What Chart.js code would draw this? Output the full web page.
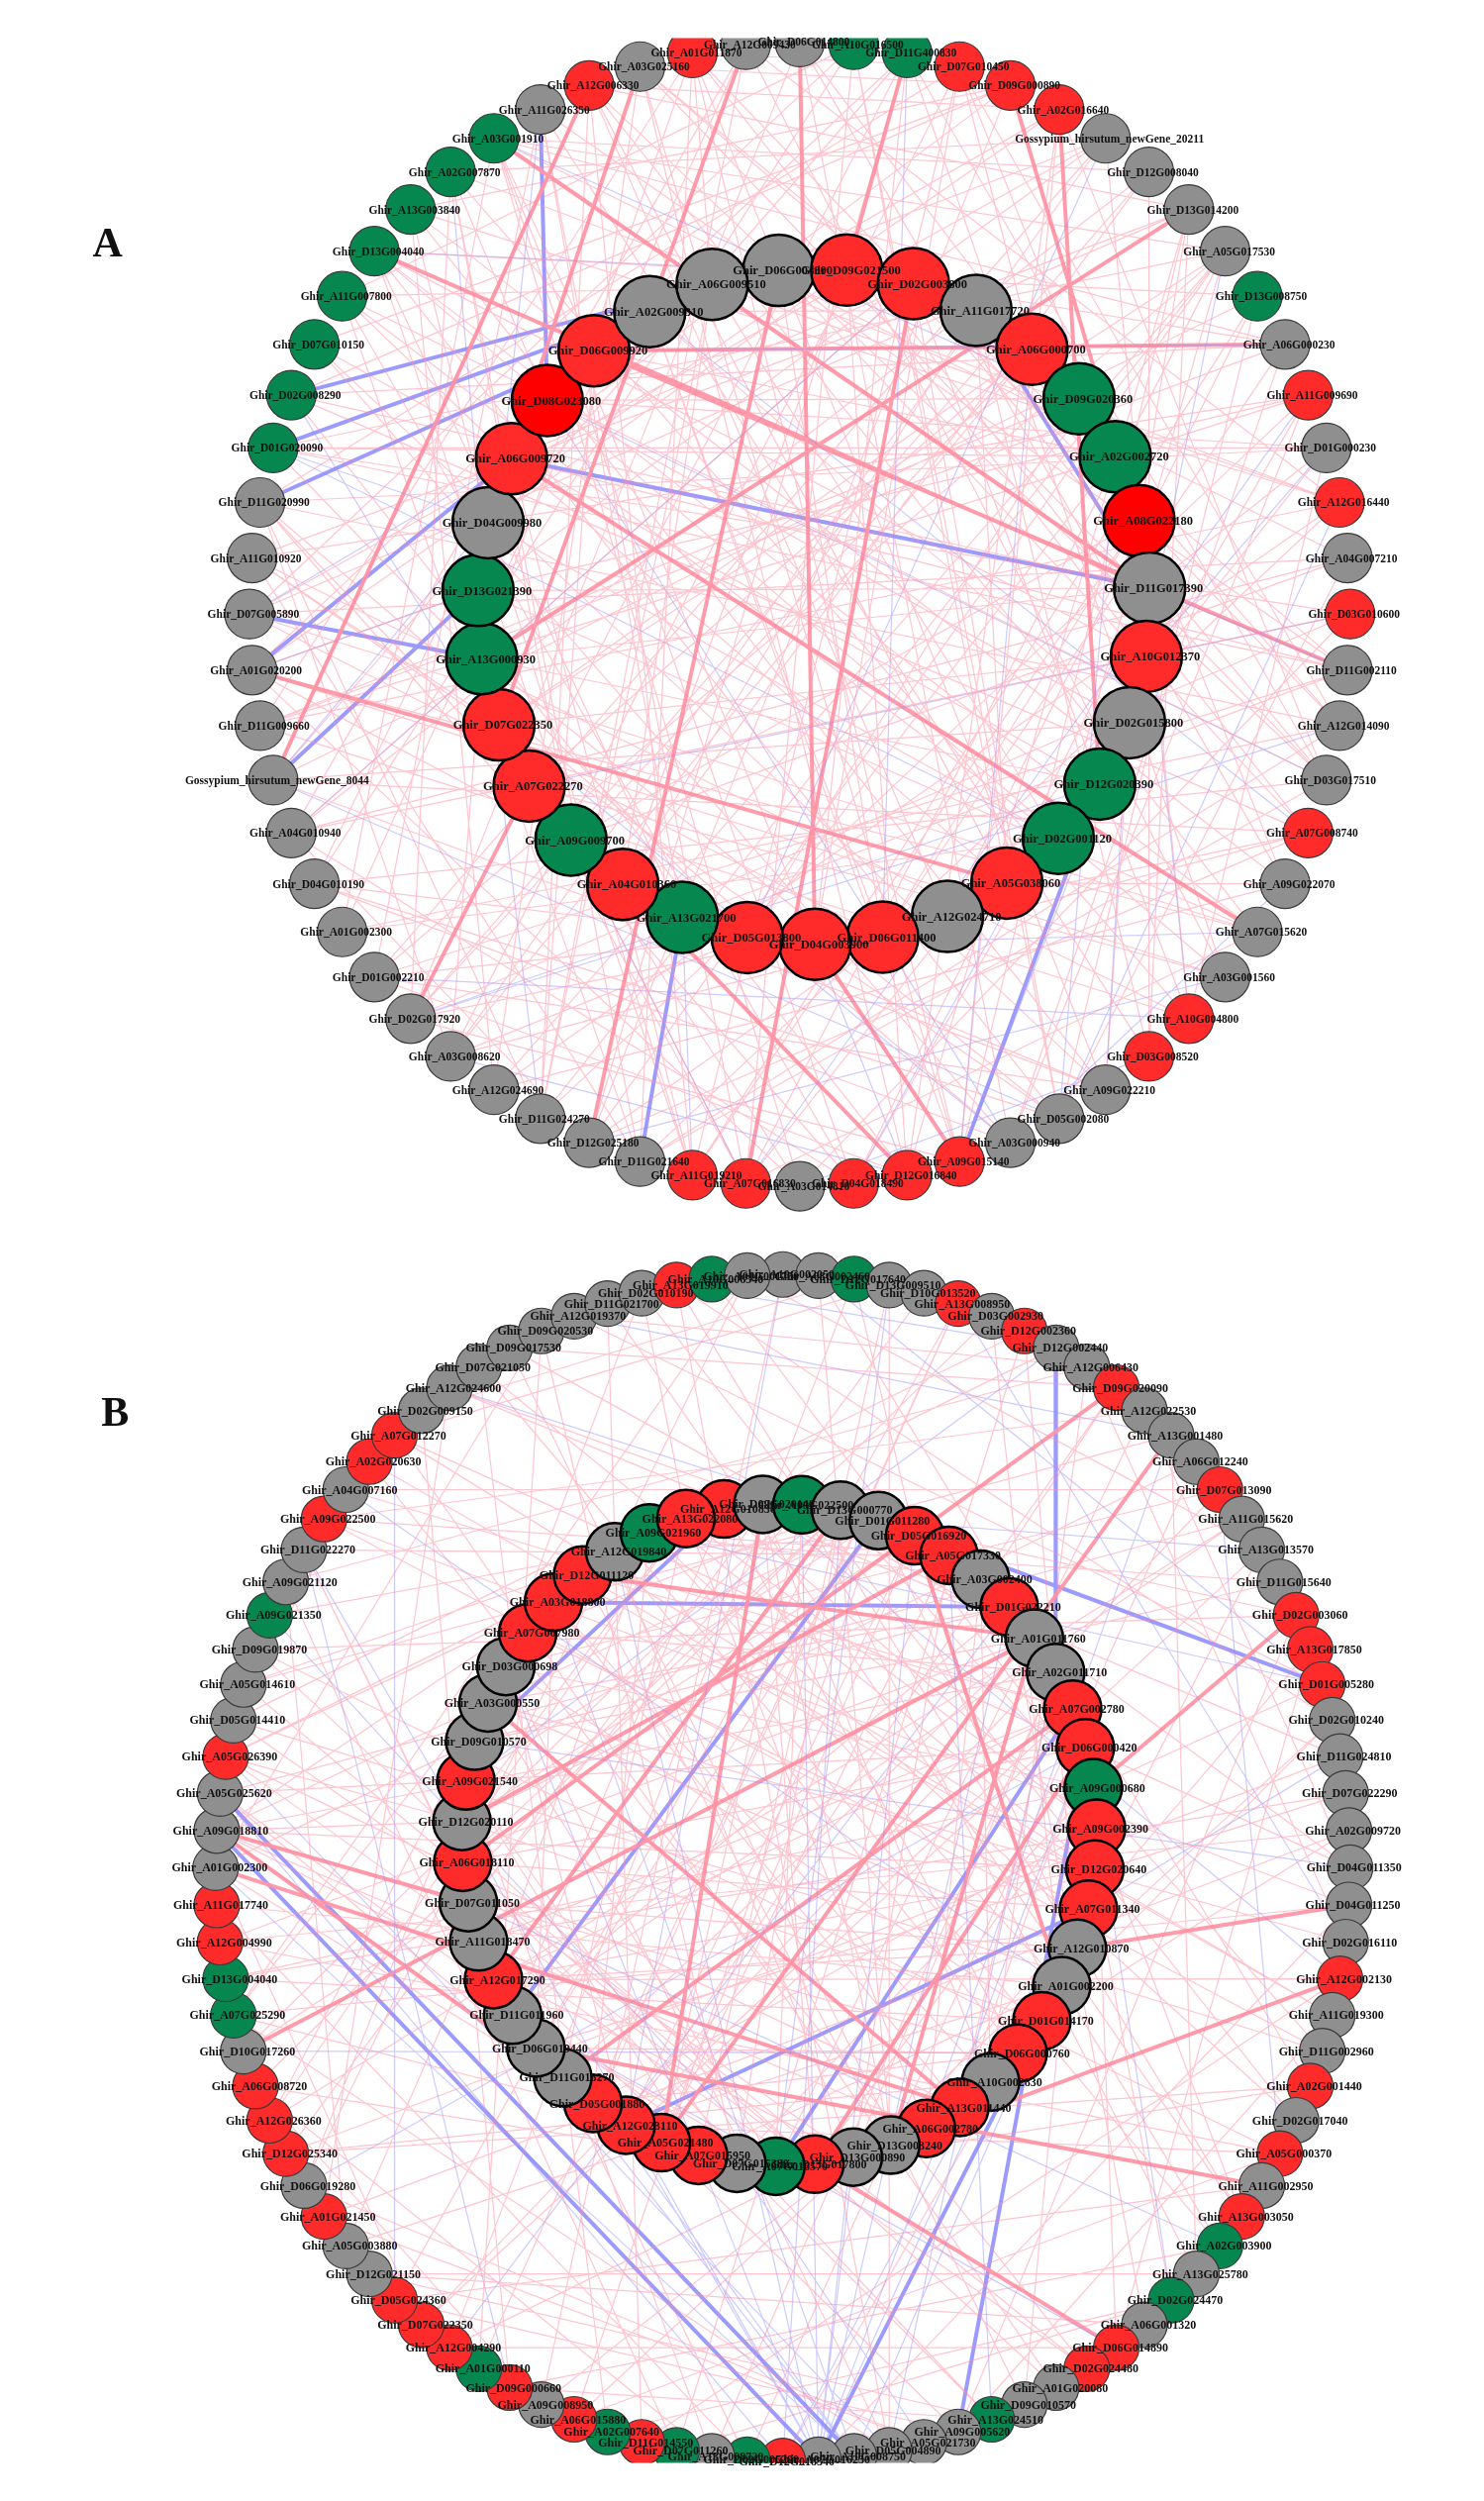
<!DOCTYPE html>
<html>
<head>
<meta charset="utf-8">
<script src="https://cdn.jsdelivr.net/npm/chart.js@4.4.1/dist/chart.umd.min.js"></script>
<style>
  html, body { margin: 0; padding: 0; background: #fff; }
  canvas { display: block; }
</style>
</head>
<body>
<canvas id="chart" width="1499" height="2526" style="width:1499px;height:2526px"></canvas>
<script>
// gene names and module colours (clockwise from the top)
// colour codes: Y grey, R red, B bright red, G green
const aOuterNames = ["D06G014800","A10G016500","D11G400830","D07G010450","D09G000890","A02G016640","Gossypium_hirsutum_newGene_20211","D12G008040","D13G014200","A05G017530",
  "D13G008750","A06G000230","A11G009690","D01G000230","A12G016440","A04G007210","D03G010600","D11G002110","A12G014090","D03G017510",
  "A07G008740","A09G022070","A07G015620","A03G001560","A10G004800","D03G008520","A09G022210","D05G002080","A03G000940","A09G015140",
  "D12G016840","D04G018490","A03G014810","A07G016830","A11G019210","D11G021640","D12G025180","D11G024270","A12G024690","A03G008620",
  "D02G017920","D01G002210","A01G002300","D04G010190","A04G010940","Gossypium_hirsutum_newGene_8044","D11G009660","A01G020200","D07G005890","A11G010920",
  "D11G020990","D01G020090","D02G008290","D07G010150","A11G007800","D13G004040","A13G003840","A02G007870","A03G001910","A11G026350",
  "A12G006330","A03G025160","A01G011870","A12G009430"];
const aOuterColors = "YGGRRRYYYYGYRYRYRYYYRYYYRRYYYRRRYRRYYYYYYYYYYYYYYYYGGGGGGGGYRYRY";

const aInnerNames = ["D06G004800","D09G021500","D02G003800","A11G017720","A06G000700","D09G020360","A02G002720","A08G022180","D11G017390","A10G012370",
  "D02G015800","D12G020390","D02G001120","A05G038060","A12G024710","D06G011400","D04G003900","D05G013800","A13G021700","A04G010360",
  "A09G009700","A07G022270","D07G022350","A13G000930","D13G021390","D04G009980","A06G009720","D08G023080","D06G009920","A02G009310","A06G009510"];
const aInnerColors = "YRRYRGGBYRYGGRYRRRGRGRRGGYRBRYY";

const bOuterNames = ["A10G002050","A03G002460","D12G017640","D13G009510","D10G013520","A13G008950","D03G002930","D12G002360","D12G002440","A12G006430",
  "D09G020090","A12G022530","A13G001480","A06G012240","D07G013090","A11G015620","A13G013570","D11G015640","D02G003060","A13G017850",
  "D01G005280","D02G010240","D11G024810","D07G022290","A02G009720","D04G011350","D04G011250","D02G016110","A12G002130","A11G019300",
  "D11G002960","A02G001440","D02G017040","A05G000370","A11G002950","A13G003050","A02G003900","A13G025780","D02G024470","A06G001320",
  "D06G014890","D02G024480","A01G020080","D09G010570","A13G024510","A09G005620","A05G021730","D05G004890","A10G008750","A07G016230",
  "D12G018340","D02G005290","A13G008720","D07G011260","D11G014550","A02G007640","A06G015880","A09G008950","D09G000660","A01G000110",
  "A12G004290","D07G022350","D05G024360","D12G021150","A05G003880","A01G021450","D06G019280","D12G025340","A12G026360","A06G008720",
  "D10G017260","A07G025290","D13G004040","A12G004990","A11G017740","A01G002300","A09G018810","A05G025620","A05G026390","D05G014410",
  "A05G014610","D09G019870","A09G021350","A09G021120","D11G022270","A09G022500","A04G007160","A02G020630","A07G012270","D02G009150",
  "A12G024600","D07G021050","D09G017530","D09G020530","A12G019370","D11G021700","D02G010190","A13G019910","A10G006540","A01G001750"];
const bOuterColors = "YYGYYRYRYYRYYYRYYYRRRYYYYYYYRYYRYRYRGYGYRRYYGYYYYYRGYGRGRYRGRRRYYRYRRRYGGRRYYYRYYYGYYRYRRYYYYYYYYRGY";

const bInnerNames = ["A12G010830","D09G020140","A09G022500","D13G000770","D01G011280","D05G016920","A05G017330","A03G002400","D01G022210","A01G011760",
  "A02G011710","A07G002780","D06G000420","A09G000680","A09G002390","D12G020640","A07G011340","A12G010870","A01G002200","D01G014170",
  "D06G000760","A10G002830","A13G011440","A06G002780","D13G003240","D13G000890","D13G017800","A07G016570","D07G015380","A07G015950",
  "A05G021480","A12G023110","D05G001880","D11G018270","D06G019440","D11G011960","A12G017290","A11G018470","D07G011050","A06G018110",
  "D12G020110","A09G021540","D09G010570","A03G000550","D03G000698","A07G007980","A03G018800","D12G011120","A12G019840","A09G021960","A13G022080"];
const bInnerColors = "RYGYYRRYRYYRRGRRRYYRRYRRYYRGYRRRRYYYRYYRYRYYYRRRYGR";

// co-expression edges, node index pairs (outer ring first, inner ring after it)
const aPinkThin = "0-40 0-70 1-33 2-45 3-80 4-52 5-30 6-88 7-44 8-60 9-37 10-55 11-28 12-49 13-72 14-46 15-58 16-40 17-90 18-50 19-35 20-62 21-77 22-48 23-2 24-57 25-8 26-41 27-66 28-53 29-5 30-61 31-12 32-47 33-85 34-3 35-54 36-9 37-60 38-14 39-68 40-20 41-6 42-18 43-91 44-16 45-26 46-11 47-22 48-79 49-24 50-13 51-17 52-30 53-75 54-19 55-27 56-21 57-84 58-31 59-25 60-34 61-38 62-29 63-42 64-79 65-83 66-90 67-77 68-86 69-81 70-92 71-84 72-88 73-65 74-93 75-87 76-94 77-1 78-10 79-36 80-43 81-51 82-59 83-7 84-15 85-23 86-32 87-39 88-47 89-56 90-4 91-13 92-21 93-29 94-37 3-50 6-39 9-58 15-44 18-3 22-55 27-10 33-59 36-20 41-30 44-63 49-8 51-70 52-72 54-66 57-14 60-5 62-46 1-27 4-61 7-25 10-45 13-33 16-51 19-43 23-47 26-56 29-40 32-16 35-62 38-9 0-21 2-36 5-47 8-29 11-52 14-35 17-61 20-39 24-6 28-12 31-50 34-55 37-63 40-7 43-1 46-24 48-15 50-28 53-4 56-38 58-11 61-19 63-23 64-5 66-19 68-40 70-12 72-31 74-45 76-54 78-60 80-2 82-26 84-47 86-9 88-22 90-34 92-58 94-14 " +
  "1-48 3-62 5-19 7-58 9-41 11-66 12-37 14-56 16-73 18-62 20-45 21-3 23-55 25-67 27-49 30-8 32-58 34-71 36-44 38-21 39-3 41-59 42-76 44-31 46-70 47-2 49-35 51-9 53-26 55-82 56-4 57-35 59-17 61-29 62-87 0-28 2-19 4-36 6-57 8-48 10-34 13-51 15-27 17-41 19-60 22-33 24-13 26-62 28-43 31-54 33-9 35-18 37-50 40-57 43-27 45-60 48-6 50-39 52-20 54-1 58-42 60-22 63-14 65-89 67-83 69-91 71-79 73-86 75-66 77-90 79-93 81-70 83-94 85-68 87-72 89-76 91-74 93-67 64-20 66-44 68-3 70-61 72-52 74-26 76-9 78-41 80-58 82-17 84-33 86-49 88-12 90-54 92-37 94-62 65-30 67-18 69-46 71-8 73-55 75-24 77-60 79-11 81-39 83-50 85-2 87-27 89-34 91-57 93-6";
const aBlueThin = "51-76 51-89 52-85 47-88 45-89 29-68 29-74 30-80 28-91 27-70 33-84 34-82 59-87 57-86 13-73 17-72 20-93 24-71 37-88 40-75 44-66 48-90 2-79 6-81 9-74 11-92 55-64 58-69 21-28 25-32 18-40 26-71 31-73 28-86 16-85 19-91 22-80 23-36 24-41 27-45 30-39 14-27 12-33";
const aPinkThick = "2-65 4-71 5-75 61-89 63-86 58-72 17-92 30-85 33-66 40-85 0-80 22-90 29-80 47-77 11-92 55-72 36-64 8-87 60-45";
const aBlueThick = "51-93 52-94 72-90 47-90 67-72 45-88 35-82 29-75 59-91 48-87 50-64";

const bPinkThin = "76-110 76-120 76-133 76-140 76-146 76-125 76-137 76-115 76-104 75-130 75-142 74-118 77-128 78-122 70-138 66-141 62-45 60-40 58-44 64-130 68-145 72-119 80-101 82-148 84-106 86-111 88-3 90-107 92-10 94-20 96-150 98-113 1-124 3-129 5-132 7-117 9-121 11-127 13-140 15-135 17-109 19-116 21-123 23-134 25-104 27-143 29-147 31-126 33-131 35-114 37-102 39-108 41-139 43-112 45-136 47-144 50-120 52-110 54-28 56-33 57-125 59-5 61-14 63-37 65-46 67-121 69-103 71-126 73-24 79-30 81-18 83-9 85-26 87-41 89-2 91-115 93-128 95-35 97-47 99-16 100-120 102-130 104-141 106-125 108-135 110-145 112-122 114-132 116-139 118-149 121-101 123-107 127-143 129-137 131-105 134-146 136-111 138-117 140-150 142-109 144-119 147-124 2-60 6-70 12-80 22-90 32-96 42-88 46-66 51-74 53-83 55-91 0-57 4-67 8-78 14-86 24-65 34-62 36-58 38-53 26-71 30-85 77-133 77-112 78-140 79-125 73-109 71-147 69-129 20-113 16-121 10-107 44-139 40-114 36-118 30-103 100-135 103-128 105-140 107-149 111-131 113-144 117-136 120-148 " +
  "1-31 3-47 5-62 7-79 9-94 11-25 13-51 15-68 17-85 19-40 21-56 23-72 25-88 27-9 29-45 31-67 33-81 35-97 37-12 39-63 41-78 43-92 45-18 47-71 49-26 51-84 53-7 55-38 57-69 59-93 61-16 63-44 65-90 67-22 69-52 71-99 73-33 75-61 77-15 79-87 81-42 83-64 85-11 87-29 89-58 91-36 93-75 95-54 97-21 99-66 100-114 101-126 102-138 103-145 104-117 105-130 106-149 107-121 108-142 109-133 110-125 111-147 112-139 113-128 114-150 115-136 116-124 117-143 118-131 119-140 120-134 121-146 122-110 123-137 124-101 125-148 126-113 127-102 128-141 129-118 130-106 131-144 132-120 133-150 134-104 135-127 136-149 137-111 138-126 139-103 141-129 143-108 145-116 146-122 148-105 149-132 150-123 2-105 6-118 10-131 14-144 18-102 24-119 28-136 32-149 38-110 44-128 52-141 56-104 60-121 64-137 68-150 72-113 78-146 80-126 84-133 88-115 92-109 96-143";
const bBlueThin = "49-102 49-108 49-112 49-140 49-144 49-125 49-131 48-137 48-146 48-119 47-110 50-115 46-128 77-50 75-48 78-47 44-106 40-135 38-113 20-149 16-104 12-123 8-141 3-127 0-131 90-105 86-118 84-140 82-127 70-120 66-112 60-108 28-101 25-142 22-116 36-138 49-105 49-121 49-148 50-103 48-134 94-12 97-8 1-20 5-27 14-33 88-62 84-58";
const bPinkThick = "76-138 76-131 75-122 101-130 103-136 106-140 109-147 112-126 115-120 118-105 122-143 124-109 133-111 26-117 28-124 34-134 40-126 18-113 10-139 70-109 12-130";
const bBlueThick = "76-49 77-48 100-142 104-135 108-146 111-127 116-131 119-49 45-112 20-104 8-110";

const palette = { Y: "#8f8f8f", R: "#ff2b2b", B: "#ff0000", G: "#06874f" };

// circular (slightly elliptical) layout: positions follow from the node order
function ring(n, cx, cy, rx, ry, start) {
  const pts = [];
  for (let i = 0; i < n; i++) {
    const a = (start + i * 360 / n) * Math.PI / 180;
    pts.push({ x: cx + rx * Math.cos(a), y: cy + ry * Math.sin(a) });
  }
  return pts;
}

const aPos = ring(aOuterNames.length, 811, 600, 586, 596, -90).concat(ring(aInnerNames.length, 826, 592, 358, 352, -96));
const bPos = ring(bOuterNames.length, 793, 1906, 604, 618, -90).concat(ring(bInnerNames.length, 789, 1872, 338, 345, -100));

function edges(str, pos) {
  const out = [];
  str.trim().split(/\s+/).forEach((e) => {
    const [a, b] = e.split("-").map(Number);
    if (!pos[a] || !pos[b]) return;
    out.push(pos[a], pos[b], { x: NaN, y: NaN });
  });
  return out;
}

function edgeSet(str, pos, color, width) {
  return { data: edges(str, pos), showLine: true, spanGaps: false, borderColor: color, borderWidth: width, pointRadius: 0, order: 5 };
}

function nodeSet(pos, colors, radius, border, bw) {
  return {
    data: pos, showLine: false, order: 0,
    pointRadius: radius, pointHoverRadius: radius,
    pointBackgroundColor: colors.split("").map((c) => palette[c]),
    pointBorderColor: border, pointBorderWidth: bw
  };
}

const nA = aOuterNames.length, nB = bOuterNames.length;

const labels = {
  id: "labels",
  afterDatasetsDraw(chart) {
    const ctx = chart.ctx, xs = chart.scales.x, ys = chart.scales.y;
    ctx.save();
    ctx.fillStyle = "#111";
    ctx.textAlign = "center";
    ctx.textBaseline = "middle";
    const put = (names, pos, offset, size) => {
      ctx.font = "bold " + size + "px 'Liberation Serif', serif";
      names.forEach((n, i) => {
        const p = pos[i + offset];
        const t = n.startsWith("Gossypium") ? n : "Ghir_" + n;
        ctx.fillText(t, xs.getPixelForValue(p.x) + 4, ys.getPixelForValue(p.y) + 1);
      });
    };
    put(aOuterNames, aPos, 0, 11.5);
    put(aInnerNames, aPos, nA, 12.5);
    put(bOuterNames, bPos, 0, 12);
    put(bInnerNames, bPos, nB, 12);
    ctx.font = "bold 42px 'Liberation Serif', serif";
    ctx.fillText("A", xs.getPixelForValue(74), ys.getPixelForValue(216));
    ctx.fillText("B", xs.getPixelForValue(82), ys.getPixelForValue(1434));
    ctx.restore();
  }
};

new Chart(document.getElementById("chart"), {
  type: "scatter",
  data: {
    datasets: [
      nodeSet(aPos.slice(nA), aInnerColors, 36, "#000", 2.5),
      nodeSet(aPos.slice(0, nA), aOuterColors, 25, "#3a3a3a", 1.2),
      nodeSet(bPos.slice(nB), bInnerColors, 29, "#000", 2.5),
      nodeSet(bPos.slice(0, nB), bOuterColors, 23, "#3a3a3a", 1.2),
      edgeSet(aPinkThin, aPos, "rgba(255,140,160,0.5)", 1.2),
      edgeSet(aBlueThin, aPos, "rgba(140,140,255,0.45)", 1.2),
      edgeSet(aPinkThick, aPos, "rgba(255,150,165,0.95)", 4),
      edgeSet(aBlueThick, aPos, "rgba(150,150,255,0.95)", 4),
      edgeSet(bPinkThin, bPos, "rgba(255,140,160,0.5)", 1.2),
      edgeSet(bBlueThin, bPos, "rgba(140,140,255,0.45)", 1.2),
      edgeSet(bPinkThick, bPos, "rgba(255,150,165,0.95)", 4),
      edgeSet(bBlueThick, bPos, "rgba(150,150,255,0.95)", 4)
    ]
  },
  options: {
    responsive: false,
    devicePixelRatio: 1,
    animation: false,
    layout: { padding: 0 },
    plugins: { legend: { display: false }, tooltip: { enabled: false } },
    scales: {
      x: { type: "linear", min: 0, max: 1499, display: false },
      y: { type: "linear", min: 0, max: 2526, reverse: true, display: false }
    }
  },
  plugins: [labels]
});
</script>
</body>
</html>
